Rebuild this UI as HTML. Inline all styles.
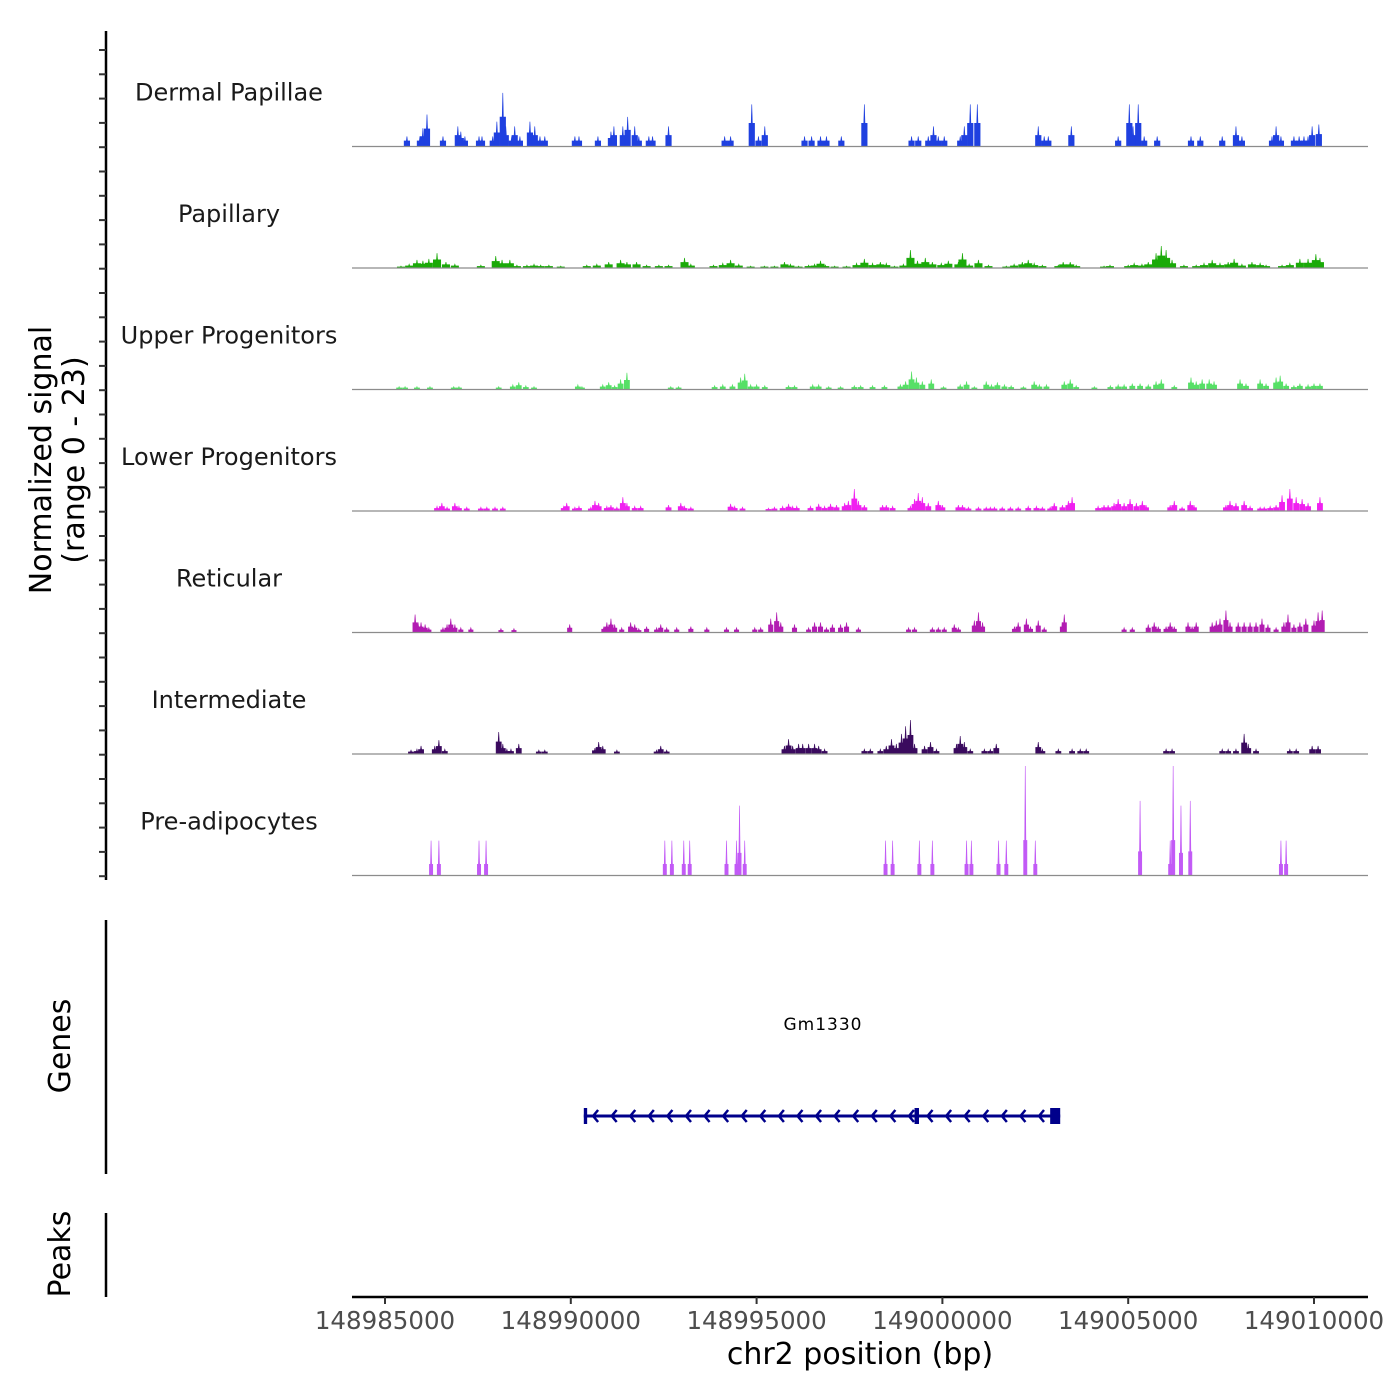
<!DOCTYPE html>
<html><head><meta charset="utf-8"><style>
html,body{margin:0;padding:0;background:#fff;}
svg{display:block;font-family:"DejaVu Sans","Liberation Sans",sans-serif;}
</style></head><body>
<svg id="chart" width="1400" height="1400" viewBox="0 0 1400 1400" xmlns="http://www.w3.org/2000/svg">
<g id="tracks"></g>
<g id="yaxis"></g>
<text transform="translate(57,460) rotate(-90)" text-anchor="middle" font-size="30" fill="#000"><tspan x="0" dy="-6">Normalized signal</tspan><tspan x="0" dy="33">(range 0 - 23)</tspan></text>
<line x1="106" y1="920" x2="106" y2="1174" stroke="#000" stroke-width="2.5"/>
<text transform="translate(70,1046) rotate(-90)" text-anchor="middle" font-size="30" fill="#000">Genes</text>
<g id="genes"></g>
<line x1="106" y1="1213" x2="106" y2="1297" stroke="#000" stroke-width="2.5"/>
<text transform="translate(70,1254) rotate(-90)" text-anchor="middle" font-size="30" fill="#000">Peaks</text>
<g id="xaxis"></g>
<text x="860" y="1364" text-anchor="middle" font-size="30" fill="#000">chr2 position (bp)</text>
</svg>
<script>
// ---- data: positions in kb offset from 148985000, values = normalized signal ----
const xTicks = [148985000, 148990000, 148995000, 149000000, 149005000, 149010000];
const yMax = 23;
const trackNames = ["Dermal Papillae","Papillary","Upper Progenitors","Lower Progenitors","Reticular","Intermediate","Pre-adipocytes"];
const trackColors = ["#1f40e0","#1aaa08","#56e066","#f020f0","#b21cb2","#3a0a5e","#c25af6"];

const dermalPos = [0.59,0.94,1.02,1.13,1.56,1.96,2.04,2.15,2.53,2.61,2.90,3.01,3.17,3.25,3.41,3.49,3.63,3.90,4.03,4.17,4.30,5.11,5.22,5.73,6.08,6.16,6.40,6.53,6.72,6.83,7.10,7.20,7.63,9.14,9.30,9.87,10.05,10.22,11.29,11.48,11.72,11.88,12.28,12.90,14.17,14.35,14.62,14.76,14.89,15.05,15.48,15.59,15.75,15.94,17.58,17.74,17.85,18.47,19.73,20.03,20.13,20.27,20.43,20.78,21.69,21.94,22.53,22.90,23.06,23.87,23.98,24.11,24.46,24.60,24.73,24.84,24.95,25.13];
const dermalVal = [2.1,2.1,3.8,6.7,2.1,4.2,3.1,2.1,2.1,2.1,2.1,5.2,11.2,4.2,2.1,4.2,2.1,5.2,4.2,2.1,2.1,2.1,2.1,2.1,3.1,4.2,4.2,6.2,4.2,2.1,2.1,2.1,4.2,2.1,2.1,8.8,2.1,4.2,2.1,2.1,2.1,2.1,2.1,8.8,2.1,2.1,2.1,4.2,2.1,2.1,2.1,4.2,8.8,8.8,4.2,2.1,2.1,4.2,2.1,8.8,4.2,8.8,2.1,2.1,2.1,2.1,2.1,4.2,2.1,2.1,4.2,2.1,2.1,2.1,2.1,2.1,4.2,4.6];

const papPos = [0.43,0.65,0.86,1.02,1.18,1.40,1.64,1.88,2.58,2.98,3.15,3.36,3.55,3.82,4.01,4.19,4.41,4.73,5.43,5.70,6.02,6.34,6.51,6.77,7.04,7.37,7.63,8.06,8.23,8.84,9.09,9.30,9.52,9.84,10.21,10.48,10.75,10.91,11.13,11.40,11.56,11.72,11.85,12.10,12.42,12.69,12.90,13.12,13.33,13.49,13.71,13.95,14.14,14.33,14.54,14.73,14.97,15.16,15.43,15.54,15.72,15.97,16.24,16.72,16.93,17.15,17.31,17.47,17.69,18.12,18.25,18.44,18.60,19.35,19.51,20.00,20.16,20.37,20.54,20.75,20.89,21.02,21.18,21.50,21.83,22.04,22.26,22.47,22.69,22.85,23.06,23.33,23.55,23.71,24.14,24.35,24.62,24.84,25.05,25.16];
const papVal = [0.4,0.8,1.7,1.5,1.9,3.1,1.25,0.8,0.6,2.5,1.7,1.7,0.6,0.6,0.8,0.6,0.6,0.4,0.6,0.8,1.25,1.7,1.25,1.25,0.6,0.6,0.6,2.1,0.8,0.6,1.0,1.7,0.8,0.4,0.4,0.4,1.25,0.8,0.4,0.6,0.8,1.5,0.6,0.4,0.4,1.0,1.9,1.0,1.25,1.0,0.4,0.8,3.75,1.5,2.1,1.25,1.0,1.5,1.25,3.1,0.8,1.7,0.6,0.4,0.8,1.25,1.7,1.0,0.6,0.6,1.25,1.25,0.6,0.4,0.6,0.6,1.0,0.8,1.25,3.1,4.6,3.75,1.7,0.6,0.6,1.0,1.7,1.0,1.25,1.9,0.8,1.25,1.0,0.6,0.6,1.0,1.9,1.9,2.9,2.1];

const upPos = [0.38,0.54,0.86,1.21,1.85,1.99,3.06,3.44,3.60,3.79,4.01,5.19,5.30,5.86,6.02,6.18,6.34,6.51,7.69,7.90,8.87,9.09,9.35,9.57,9.68,9.84,10.00,10.22,10.86,11.02,11.51,11.67,11.94,12.26,12.63,12.80,13.12,13.44,13.87,14.01,14.17,14.30,14.46,14.70,15.03,15.48,15.65,15.86,16.18,16.32,16.48,16.67,16.85,17.18,17.47,17.61,17.80,18.28,18.44,18.60,19.09,19.52,19.73,19.89,20.11,20.32,20.54,20.75,20.89,21.24,21.69,21.83,21.99,22.18,22.31,23.01,23.17,23.55,23.71,23.98,24.09,24.25,24.46,24.62,24.84,25.00,25.16];
const upVal = [0.6,0.6,0.6,0.6,0.6,0.6,0.6,1.0,1.5,0.8,0.6,1.0,0.6,1.0,1.5,0.8,2.1,3.5,0.6,0.6,0.8,1.0,1.0,2.5,3.3,1.0,1.0,0.8,0.8,0.8,1.0,1.0,0.6,0.6,0.8,0.8,0.8,0.8,1.0,1.7,3.75,2.5,1.7,2.1,0.6,1.0,1.7,0.6,1.7,1.0,1.5,1.0,0.8,0.6,1.7,1.0,1.0,1.7,2.1,0.8,0.6,0.8,1.0,1.0,1.25,1.25,1.0,1.7,2.1,0.8,2.5,1.7,2.1,2.1,1.7,2.1,1.25,2.1,1.25,2.5,2.9,1.25,0.8,1.25,1.0,1.25,1.25];

const lowPos = [1.40,1.53,1.67,1.88,1.99,2.20,2.58,2.74,2.96,3.17,4.81,4.89,5.11,5.22,5.54,5.65,5.75,5.97,6.08,6.24,6.40,6.51,6.72,6.88,7.63,7.96,8.06,8.23,9.30,9.41,9.62,10.32,10.48,10.70,10.86,10.97,11.08,11.45,11.67,11.83,11.99,12.15,12.37,12.47,12.63,12.74,12.90,13.39,13.49,13.66,14.14,14.25,14.35,14.46,14.62,14.89,15.00,15.43,15.54,15.70,15.97,16.18,16.29,16.40,16.61,16.83,17.04,17.31,17.53,17.69,17.90,18.01,18.23,18.39,18.49,19.19,19.35,19.46,19.62,19.73,19.89,20.05,20.22,20.38,20.48,21.13,21.24,21.45,21.67,21.77,22.63,22.74,22.90,23.12,23.28,23.55,23.66,23.82,23.98,24.14,24.35,24.52,24.68,24.84,25.16];
const lowVal = [1.0,1.7,0.8,1.7,1.0,0.8,0.8,0.8,0.8,0.8,1.0,1.7,0.8,1.0,0.8,2.1,1.7,1.0,1.25,0.8,2.9,1.7,1.0,1.0,1.25,1.7,1.0,0.8,1.5,1.0,0.8,0.6,0.8,1.0,1.5,1.0,1.0,1.0,1.5,1.0,1.5,1.25,1.7,2.1,4.6,2.1,1.25,1.25,1.25,1.0,1.0,2.5,3.75,2.9,1.7,2.1,1.25,1.25,1.25,0.8,0.8,0.8,0.8,0.8,0.8,0.8,0.8,1.0,1.0,0.8,0.8,1.7,1.25,2.1,2.9,1.0,1.25,1.25,1.7,2.5,1.7,2.5,1.7,2.1,1.25,1.25,2.1,0.8,2.1,1.25,1.25,2.1,1.7,2.1,1.0,0.8,0.8,1.0,1.25,3.3,4.6,2.9,2.5,1.7,2.9];

const retPos = [0.81,0.89,0.97,1.08,1.18,1.56,1.67,1.77,1.88,2.04,2.31,3.12,3.47,4.97,5.89,5.97,6.08,6.18,6.37,6.61,6.72,6.83,7.04,7.31,7.42,7.58,7.85,8.23,8.66,9.19,9.46,9.95,10.11,10.38,10.54,10.65,11.02,11.40,11.56,11.72,11.88,12.04,12.26,12.42,12.74,14.09,14.25,14.73,14.89,15.05,15.32,15.43,15.86,15.97,16.08,16.94,17.04,17.26,17.37,17.58,17.74,18.23,18.28,19.89,20.11,20.54,20.70,20.81,21.02,21.13,21.24,21.61,21.72,21.83,22.26,22.37,22.47,22.63,22.74,22.96,23.12,23.28,23.44,23.60,23.76,23.98,24.19,24.30,24.46,24.62,24.78,25.00,25.11,25.22];
const retVal = [3.75,2.1,2.1,1.7,1.0,1.0,1.7,2.9,1.7,1.0,1.0,0.8,0.8,1.7,1.25,2.1,2.9,1.7,1.0,2.1,1.7,0.8,1.25,1.0,1.7,1.0,1.0,1.25,1.0,1.0,1.0,1.0,1.0,2.9,4.2,2.1,1.7,1.0,2.1,2.1,1.0,1.7,1.7,2.1,1.0,1.0,1.0,1.0,1.0,1.0,1.7,1.0,2.5,4.2,2.1,1.25,2.1,2.9,1.25,2.5,1.0,2.1,3.75,1.0,1.0,1.7,2.1,1.25,1.25,2.1,1.25,2.1,1.25,2.1,2.1,2.5,2.9,4.6,2.1,2.1,2.1,2.1,2.1,2.9,1.7,1.0,2.1,3.75,1.7,2.1,2.9,2.5,4.2,4.6];

const intPos = [0.70,0.86,0.97,1.34,1.45,1.61,3.06,3.17,3.28,3.39,3.60,4.14,4.30,5.65,5.75,5.86,6.24,7.31,7.42,7.58,10.75,10.86,10.97,11.13,11.24,11.40,11.56,11.67,11.83,12.90,13.06,13.33,13.49,13.63,13.76,13.90,14.01,14.14,14.25,14.52,14.68,14.84,15.38,15.48,15.59,15.75,16.13,16.29,16.45,17.58,17.69,18.12,18.49,18.71,18.87,21.02,21.18,22.53,22.69,22.90,23.12,23.23,23.44,24.35,24.52,24.95,25.11];
const intVal = [0.8,1.0,1.7,1.7,2.9,1.0,4.6,2.1,1.0,1.0,2.1,0.8,0.8,1.25,2.5,1.7,0.8,0.8,1.7,0.8,1.7,3.1,1.7,2.1,2.1,2.1,2.1,1.7,1.0,1.0,1.0,1.0,1.7,3.1,2.1,4.2,5.8,7.1,2.1,1.7,2.5,1.0,2.1,3.75,2.5,1.0,1.0,1.0,2.1,2.5,1.0,1.0,1.0,1.0,1.0,1.0,1.0,1.0,1.0,1.0,4.2,2.1,1.0,1.0,1.0,1.7,1.7];

const prePos = [1.24,1.45,2.53,2.72,7.53,7.72,8.04,8.20,9.19,9.46,9.54,9.68,13.47,13.66,14.38,14.73,15.65,15.78,16.51,16.72,17.23,17.50,20.32,21.13,21.21,21.42,21.67,24.11,24.25];
const preVal = [7.3,7.3,7.3,7.3,7.3,7.3,7.3,7.3,7.3,7.3,14.6,7.3,7.3,7.3,7.3,7.3,7.3,7.3,7.3,7.3,22.9,7.3,15.6,7.3,22.9,14.6,15.6,7.3,7.3];

const trackPos = [dermalPos, papPos, upPos, lowPos, retPos, intPos, prePos];
const trackVal = [dermalVal, papVal, upVal, lowVal, retVal, intVal, preVal];

// gene model (bp)
const geneStart = 148990350, geneEnd = 149003170;
const exonStarts = [148990350, 148999250, 149002900];
const exonEnds   = [148990440, 148999370, 149003170];

// ---- scales ----
const NS = "http://www.w3.org/2000/svg";
const X0 = 148985000, PX0 = 385, PXPER = 185.8/5000;
function xs(bp){ return PX0 + (bp - X0) * PXPER; }
function xkb(kb){ return xs(X0 + kb*1000); }
const TRACK_H = 121.5, BASE0 = 146.5;
function ys(v, i){ return BASE0 + i*TRACK_H - v/yMax*110; }
function mk(tag, attrs, parent){ const e=document.createElementNS(NS,tag); for(const k in attrs) e.setAttribute(k, attrs[k]); parent.appendChild(e); return e; }

const tracksG = document.getElementById('tracks');
const widthsKb = [0.15,0.2,0.14,0.14,0.12,0.14,0.09];
trackNames.forEach((name, i) => {
  const g = mk('g', {}, tracksG);
  
  
  const base = ys(0, i);
  const lab = mk('text', {x:229, y: base - 46, 'text-anchor':'middle', 'font-size':24, fill:'#1a1a1a'}, g);
  
  
  lab.textContent = name;
  const pos = trackPos[i], val = trackVal[i], w = widthsKb[i];
  for (let j=0;j<pos.length;j++){
    const xl = xkb(pos[j]-w/2), xr = xkb(pos[j]+w/2), xc = xkb(pos[j]);
    const top = ys(val[j], i), sh = ys(val[j]*(i===6?0.32:0.55), i);
    const pts = `${xl},${base} ${xl},${sh} ${xc-0.6},${sh} ${xc},${top} ${xc+0.6},${sh} ${xr},${sh} ${xr},${base}`;
    const p = mk('polygon', {points: pts, fill: trackColors[i], stroke: trackColors[i], 'stroke-width':0.6}, g);
    
    
  }
  const bl = mk('line', {x1:352, x2:1368, y1:base, y2:base, stroke:'#8c8c8c', 'stroke-width':1.2}, g);
  
  
});

// left signal axis
const ya = document.getElementById('yaxis');
const yl = mk('line', {x1:106, x2:106, y1:31, y2:880, stroke:'#000', 'stroke-width':2.5}, ya);


for (let k=0;k<35;k++){
  const y = 50 + k*24.3;
  const t = mk('line', {x1:99, x2:106, y1:y, y2:y, stroke:'#333', 'stroke-width':2}, ya);
  
  
}

// gene track
const gg = document.getElementById('genes');
const gy = 1116;
const gl = mk('line', {x1:xs(geneStart), x2:xs(geneEnd), y1:gy, y2:gy, stroke:'#00008b', 'stroke-width':3}, gg);


for (let bp = geneStart + 250; bp < geneEnd - 150; bp += 500){
  const x = xs(bp);
  const c = mk('polyline', {points:`${x+5},${gy-6} ${x},${gy} ${x+5},${gy+6}`, fill:'none', stroke:'#00008b', 'stroke-width':2.5}, gg);
  
  
}
for (let e=0;e<exonStarts.length;e++){
  const x1 = xs(exonStarts[e]), x2 = xs(exonEnds[e]);
  const r = mk('rect', {x:x1, y:gy-8, width:Math.max(3,x2-x1), height:16, fill:'#00008b'}, gg);
  
  
}
const gt = mk('text', {x:823, y:1030, 'text-anchor':'middle', 'font-size':17, 'letter-spacing':1, fill:'#000'}, gg);


gt.textContent = 'Gm1330';

// x axis
const xa = document.getElementById('xaxis');
const xl = mk('line', {x1:352, x2:1368, y1:1297, y2:1297, stroke:'#000', 'stroke-width':2.5}, xa);


xTicks.forEach(t => {
  const x = xs(t);
  const tk = mk('line', {x1:x, x2:x, y1:1297, y2:1304, stroke:'#333', 'stroke-width':2}, xa);
  
  
  const tl = mk('text', {x:x, y:1329, 'text-anchor':'middle', 'font-size':24.5, fill:'#4d4d4d'}, xa);
  
  
  tl.textContent = String(t);
});
</script>
</body></html>
